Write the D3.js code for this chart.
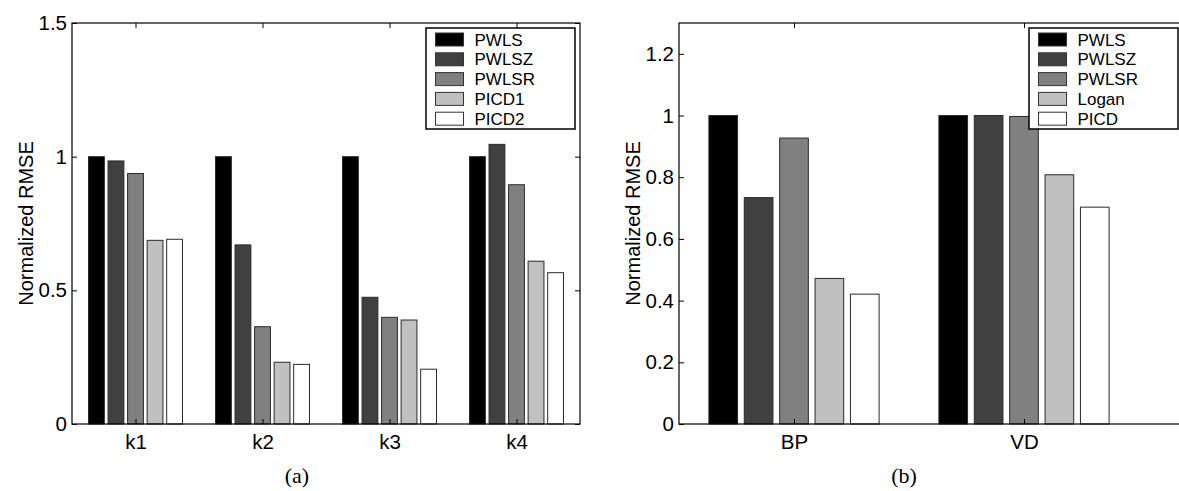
<!DOCTYPE html>
<html>
<head>
<meta charset="utf-8">
<script src="https://cdn.jsdelivr.net/npm/d3@7"></script>
<style>
  body { margin: 0; background: #fff; }
  svg { display: block; font-family: "Liberation Sans", Arial, sans-serif; }
  .panel-tag { font-family: "Liberation Serif", "DejaVu Serif", serif; }
</style>
</head>
<body>
<div id="chart"></div>
<script>
// ========== Data ==========
const paramsA = ["k1", "k2", "k3", "k4"];
const methodsA = ["PWLS", "PWLSZ", "PWLSR", "PICD1", "PICD2"];
const valuesA = [
  [1.0, 0.984, 0.937, 0.687, 0.691],  // k1
  [1.0, 0.670, 0.364, 0.231, 0.223],  // k2
  [1.0, 0.474, 0.399, 0.389, 0.205],  // k3
  [1.0, 1.046, 0.895, 0.609, 0.566],  // k4
];
const yTicksA = [0, 0.5, 1, 1.5];

const paramsB = ["BP", "VD"];
const methodsB = ["PWLS", "PWLSZ", "PWLSR", "Logan", "PICD"];
const valuesB = [
  [1.0, 0.734, 0.927, 0.472, 0.421],  // BP
  [1.0, 1.0, 0.997, 0.808, 0.703],    // VD
];
const yTicksB = [0, 0.2, 0.4, 0.6, 0.8, 1, 1.2];

const grays = ["#000000", "#404040", "#808080", "#c0c0c0", "#ffffff"];

// ========== Entry Point ==========
const svg = d3
  .select("#chart")
  .append("svg")
  .attr("width", 1179)
  .attr("height", 491);

drawPanel({
  box: { left: 72, right: 580, top: 23, bottom: 424 },
  xDomain: [0.5, paramsA.length + 0.5],
  yMax: 1.5,
  yTicks: yTicksA,
  categories: paramsA,
  methods: methodsA,
  values: valuesA,
  labelX: 33,
  legend: { right: 575, top: 28 },
  tag: "(a)",
  tagX: 297,
});

drawPanel({
  box: { left: 679, right: 1185, top: 23, bottom: 424 },
  xDomain: [0.5, 2.7],
  yMax: 1.3,
  yTicks: yTicksB,
  categories: paramsB,
  methods: methodsB,
  values: valuesB,
  labelX: 640,
  legend: { right: 1178, top: 28 },
  tag: "(b)",
  tagX: 904,
});

// ========== Panel ==========
function drawPanel(cfg) {
  const { box } = cfg;
  const g = svg.append("g");

  const x = d3.scaleLinear().domain(cfg.xDomain).range([box.left, box.right]);
  const y = d3.scaleLinear().domain([0, cfg.yMax]).range([box.bottom, box.top]);

  // bars sit in 0.74 of each category slot
  const inner = d3
    .scaleBand()
    .domain(cfg.methods)
    .range([-0.37, 0.37])
    .paddingInner(0.19)
    .paddingOuter(0);
  const unit = x(1) - x(0);

  const groups = g
    .selectAll(".group")
    .data(cfg.values)
    .join("g")
    .attr("class", "group");

  groups
    .selectAll("rect")
    .data((row, i) => row.map((v, j) => ({ cat: i + 1, method: cfg.methods[j], value: v, idx: j })))
    .join("rect")
    .attr("x", (d) => x(d.cat + inner(d.method)))
    .attr("width", inner.bandwidth() * unit)
    .attr("y", (d) => y(d.value))
    .attr("height", (d) => y(0) - y(d.value))
    .attr("fill", (d) => grays[d.idx])
    .attr("stroke", "#2a2a2a")
    .attr("stroke-width", 1);

  // Axes (ticks point inward, MATLAB style)
  const catTicks = cfg.categories.map((c, i) => i + 1);

  g.append("g")
    .attr("class", "axis")
    .attr("transform", `translate(0,${box.bottom})`)
    .call(
      d3.axisBottom(x)
        .tickValues(catTicks)
        .tickFormat((d) => cfg.categories[d - 1])
        .tickSizeInner(-5)
        .tickSizeOuter(0)
        .tickPadding(10)
    );

  g.append("g")
    .attr("class", "axis")
    .attr("transform", `translate(0,${box.top})`)
    .call(d3.axisTop(x).tickValues(catTicks).tickFormat("").tickSizeInner(-5).tickSizeOuter(0));

  g.append("g")
    .attr("class", "axis")
    .attr("transform", `translate(${box.left},0)`)
    .call(
      d3.axisLeft(y)
        .tickValues(cfg.yTicks)
        .tickFormat(d3.format("~g"))
        .tickSizeInner(-5)
        .tickSizeOuter(0)
        .tickPadding(5)
    );

  g.append("g")
    .attr("class", "axis")
    .attr("transform", `translate(${box.right},0)`)
    .call(d3.axisRight(y).tickValues(cfg.yTicks).tickFormat("").tickSizeInner(-5).tickSizeOuter(0));

  g.selectAll(".axis").attr("font-family", null).attr("font-size", null);
  g.selectAll(".domain").remove();
  g.selectAll(".tick line").attr("stroke", "#000");
  g.selectAll(".tick text").attr("font-size", 20.5).attr("fill", "#000");

  // Frame
  g.append("rect")
    .attr("x", box.left)
    .attr("y", box.top)
    .attr("width", box.right - box.left)
    .attr("height", box.bottom - box.top)
    .attr("fill", "none")
    .attr("stroke", "#000")
    .attr("stroke-width", 1.2);

  // Y label
  g.append("text")
    .attr("transform", "rotate(-90)")
    .attr("x", -(box.top + box.bottom) / 2)
    .attr("y", cfg.labelX)
    .attr("text-anchor", "middle")
    .attr("font-size", 20)
    .text("Normalized RMSE");

  // Legend
  const rowH = 19.8;
  const lg = g.append("g").attr("transform", `translate(${cfg.legend.right - 149},${cfg.legend.top})`);
  lg.append("rect")
    .attr("width", 149)
    .attr("height", 101)
    .attr("fill", "#fff")
    .attr("stroke", "#000")
    .attr("stroke-width", 1.5);

  const items = lg
    .selectAll(".item")
    .data(cfg.methods)
    .join("g")
    .attr("class", "item")
    .attr("transform", (d, i) => `translate(0,${5 + i * rowH})`);

  items
    .append("rect")
    .attr("x", 9.5)
    .attr("y", 0)
    .attr("width", 28)
    .attr("height", 13)
    .attr("fill", (d, i) => grays[i])
    .attr("stroke", "#333");

  items
    .append("text")
    .attr("x", 48.5)
    .attr("y", 6.5)
    .attr("dy", "0.36em")
    .attr("font-size", 17)
    .text((d) => d);

  // Panel tag
  svg.append("text")
    .attr("class", "panel-tag")
    .attr("x", cfg.tagX)
    .attr("y", 483)
    .attr("text-anchor", "middle")
    .attr("font-size", 22)
    .text(cfg.tag);
}
</script>
</body>
</html>
